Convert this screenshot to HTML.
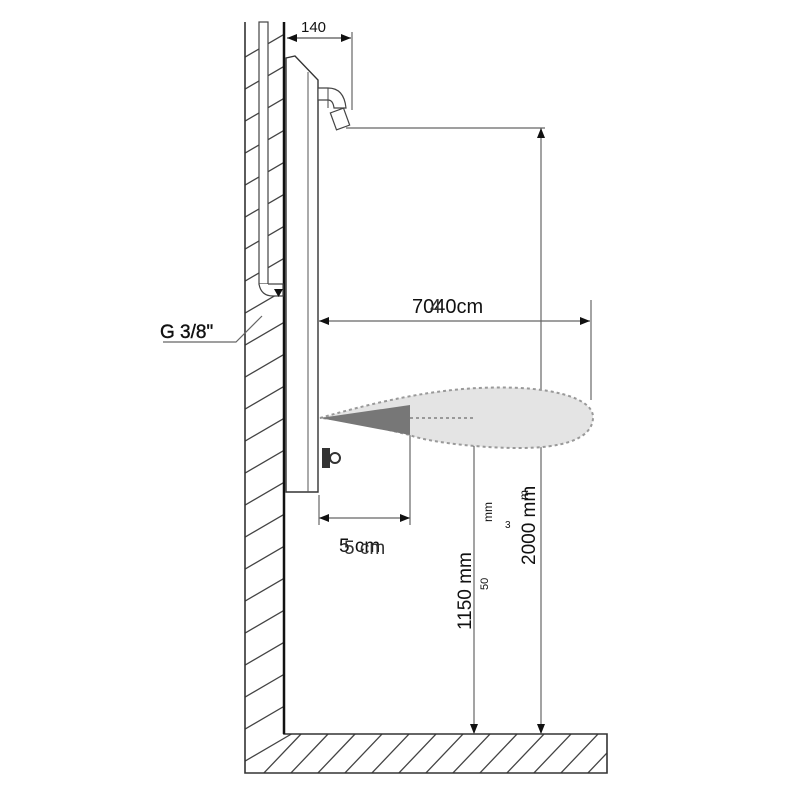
<!DOCTYPE html>
<html><head><style>body{margin:0;background:#fff}svg{display:block}</style></head><body>
<svg width="800" height="800" viewBox="0 0 800 800" xmlns="http://www.w3.org/2000/svg" font-family="Liberation Sans, sans-serif">
<defs>
<clipPath id="wc"><path d="M245 22 H284 V734 H607 V773 H245 Z"/></clipPath>
<marker id="a" viewBox="0 0 10 10" refX="10" refY="5" markerWidth="10" markerHeight="10" markerUnits="userSpaceOnUse" orient="auto-start-reverse"><path d="M0 1 L10 5 L0 9 Z" fill="#111"/></marker>
</defs>
<g clip-path="url(#wc)" stroke="#444" stroke-width="1.3">
<g id="h">
<line x1="240" y1="60" x2="300" y2="25"/><line x1="240" y1="92" x2="300" y2="57"/><line x1="240" y1="124" x2="300" y2="89"/><line x1="240" y1="156" x2="300" y2="121"/><line x1="240" y1="188" x2="300" y2="153"/><line x1="240" y1="220" x2="300" y2="185"/><line x1="240" y1="252" x2="300" y2="217"/><line x1="240" y1="284" x2="300" y2="249"/><line x1="240" y1="316" x2="300" y2="281"/><line x1="240" y1="348" x2="300" y2="313"/><line x1="240" y1="380" x2="300" y2="345"/><line x1="240" y1="412" x2="300" y2="377"/><line x1="240" y1="444" x2="300" y2="409"/><line x1="240" y1="476" x2="300" y2="441"/><line x1="240" y1="508" x2="300" y2="473"/><line x1="240" y1="540" x2="300" y2="505"/><line x1="240" y1="572" x2="300" y2="537"/><line x1="240" y1="604" x2="300" y2="569"/><line x1="240" y1="636" x2="300" y2="601"/><line x1="240" y1="668" x2="300" y2="633"/><line x1="240" y1="700" x2="300" y2="665"/><line x1="240" y1="732" x2="300" y2="697"/><line x1="240" y1="764" x2="300" y2="729"/>
</g>
<path d="M262 775l40-42M289 775l40-42M316 775l40-42M343 775l40-42M370 775l40-42M397 775l40-42M424 775l40-42M451 775l40-42M478 775l40-42M505 775l40-42M532 775l40-42M559 775l40-42M586 775l40-42" fill="none"/>
</g>
<path d="M245 22 V773 H607 V734 H284 V22" fill="none" stroke="#333" stroke-width="1.6"/>
<line x1="284" y1="22" x2="284" y2="734" stroke="#111" stroke-width="2.5"/>
<rect x="259" y="22" width="9" height="262" fill="#fff" stroke="#444" stroke-width="1.2"/>
<path d="M259 284 q2 12 14 12 h10 v-12 h-15" fill="#fff" stroke="#444" stroke-width="1.2"/>
<path d="M274 289 l9 0 l-4.5 8z" fill="#111"/>
<path d="M286 58 L295 56 L318 80 V492 H286 Z" fill="#fff" stroke="#333" stroke-width="1.4"/>
<line x1="308" y1="72" x2="308" y2="492" stroke="#555" stroke-width="1"/>
<path d="M318 88 h10 q16 0 18 20 h-12 q-1 -8 -6 -8 h-10z" fill="#fff" stroke="#444" stroke-width="1.2"/>
<line x1="328" y1="88" x2="328" y2="108" stroke="#444"/>
<rect x="333" y="110" width="14" height="18" transform="rotate(-20 340 119)" fill="#fff" stroke="#444" stroke-width="1.2"/>
<rect x="322" y="448" width="8" height="20" fill="#333"/>
<circle cx="335" cy="458" r="5" fill="#fff" stroke="#333" stroke-width="2"/>
<g stroke="#666" stroke-width="1.2" fill="none">
<line x1="346" y1="128" x2="545" y2="128"/>
<line x1="352" y1="32" x2="352" y2="110"/>
<line x1="287" y1="38" x2="351" y2="38" stroke="#555" marker-start="url(#a)" marker-end="url(#a)"/>
<line x1="541" y1="128" x2="541" y2="734" marker-start="url(#a)" marker-end="url(#a)"/>
<line x1="319" y1="321" x2="590" y2="321" marker-start="url(#a)" marker-end="url(#a)"/>
<line x1="591" y1="300" x2="591" y2="400"/>
<line x1="319" y1="518" x2="410" y2="518" marker-start="url(#a)" marker-end="url(#a)"/>
<line x1="410" y1="420" x2="410" y2="525"/>
<line x1="319" y1="495" x2="319" y2="525"/>
<line x1="474" y1="422" x2="474" y2="734" marker-start="url(#a)" marker-end="url(#a)"/>
<path d="M163 342 H236 L262 316"/>
</g>
<path d="M320 418 C400 395 460 385 520 388 C560 390 594 400 593 418 C592 440 560 448 520 448 C470 448 420 440 410 435 C380 428 350 420 320 418 Z" fill="#e4e4e4" stroke="#999" stroke-width="2" stroke-dasharray="3 3"/>
<path d="M320 418 L410 405 L410 435 Z" fill="#777"/>
<line x1="410" y1="418" x2="475" y2="418" stroke="#999" stroke-width="2" stroke-dasharray="3 3"/>
<g fill="#111" font-size="19">
<text x="412" y="313" font-size="20">7040cm</text>
<text x="430" y="313" fill="#333" font-size="20">4</text>
<text x="339" y="552">5 cm</text>
<text x="344" y="554" fill="#333">5 cm</text>
<text x="160" y="338" stroke="#111" stroke-width="0.4">G 3/8"</text>
<text transform="translate(535 565) rotate(-90)">2000 mm</text>
<text transform="translate(471 630) rotate(-90)">1150 mm</text>
<text font-size="12" transform="translate(492 522) rotate(-90)">mm</text>
<text font-size="12" transform="translate(528 500) rotate(-90)">m</text>
<text font-size="10" x="505" y="528">3</text>
<text font-size="11" transform="translate(488 590) rotate(-90)">50</text>
</g>
<text x="301" y="32" font-size="15" fill="#111">140</text>
</svg>
</body></html>
